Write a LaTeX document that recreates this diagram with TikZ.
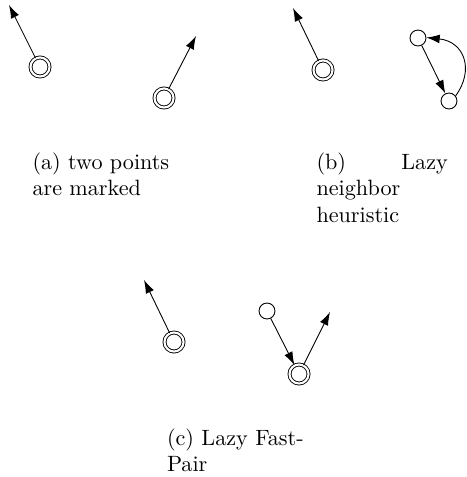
\documentclass[tikz,border=0pt]{standalone}
\usetikzlibrary{arrows.meta}
\begin{document}
\begin{tikzpicture}[x=0.4515pt,y=-0.4515pt,
  plainpt/.style={circle, draw, minimum size=7.2pt, inner sep=0pt},
  markedpt/.style={circle, draw, double, double distance=0.95pt, minimum size=8.6pt, inner sep=0pt},
  arr/.style={-{Latex[length=6pt,width=4pt]}},
  captxt/.style={anchor=base west, inner sep=0pt, outer sep=0pt}]
\useasboundingbox (0,0) rectangle (466,477);
% (a)
\node[markedpt] (a1) at (40,67) {};
\node[markedpt] (a2) at (164,98) {};
\coordinate (ta1) at (9,5);
\coordinate (ta2) at (196,36);
\draw[arr] (a1) -- (ta1);
\draw[arr] (a2) -- (ta2);
% (b)
\node[markedpt] (b1) at (323,70) {};
\node[plainpt] (b2) at (418,38) {};
\node[plainpt] (b3) at (449,101) {};
\coordinate (tb1) at (293,8);
\draw[arr] (b1) -- (tb1);
\draw[arr] (b2) -- (b3);
\draw[arr] (b3.38) .. controls +(19,-26) and +(38,4) .. (b2.3);
% (c)
\node[markedpt] (c1) at (174,342) {};
\node[plainpt] (c2) at (267,311) {};
\node[markedpt] (c3) at (299,374) {};
\coordinate (tc1) at (144,280);
\coordinate (tc3) at (330,312);
\draw[arr] (c1) -- (tc1);
\draw[arr] (c2) -- (c3);
\draw[arr] (c3) -- (tc3);
% captions
\node[captxt] (ca1) at (32.5,169.3) {(a) two points};
\node[captxt] (ca2) at (32.5,195.8) {are marked};
\node[captxt] (cb1) at (316.5,169.3) {\makebox[59.3pt][s]{(b)\hfill Lazy}};
\node[captxt] (cb2) at (316.5,195.9) {neighbor};
\node[captxt] (cb3) at (316.5,222.5) {heuristic};
\node[captxt] (cc1) at (167,445) {(c) Lazy Fast-};
\node[captxt] (cc2) at (167,471.5) {Pair};
\end{tikzpicture}
\end{document}
